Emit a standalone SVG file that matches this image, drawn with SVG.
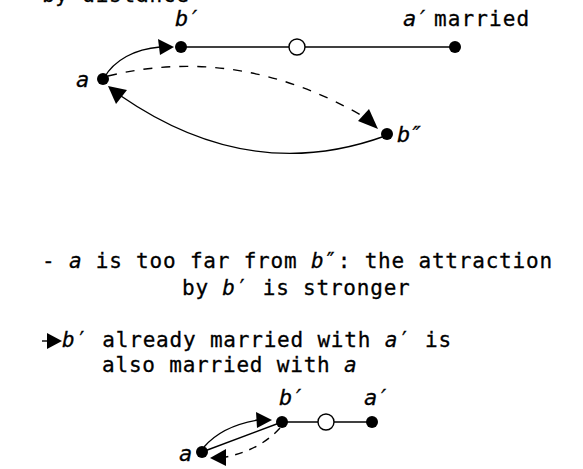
<svg xmlns="http://www.w3.org/2000/svg" width="583" height="469" viewBox="0 0 583 469">
<defs>
<style>
text{font-family:"DejaVu Sans Mono","Liberation Mono",monospace;font-size:21px;letter-spacing:0.8px;fill:#000;stroke:#000;stroke-width:0.3}
.i{font-style:italic}
.lb{font-size:22px;letter-spacing:-3px}
.dot{fill:#000}
.ring{fill:#fff;stroke:#000;stroke-width:1.4}
.ln{fill:none;stroke:#000;stroke-width:1.4}
.ds{fill:none;stroke:#000;stroke-width:1.4;stroke-dasharray:9 9}
.ah{fill:#000}
</style>
</defs>
<text x="15" y="2">- by distance</text>
<g id="connectors">
<line class="ln" x1="181" y1="47" x2="455" y2="47"/>
<path class="ln" d="M104,78 C114,60 135,49 160,47"/>
<polygon class="ah" points="174,47 158,39 160,55"/>
<path class="ds" d="M108,76 Q240,44 366,118"/>
<polygon class="ah" points="378,129 358,121 369,109"/>
<path class="ln" d="M385,136 Q250,185 121,96"/>
<polygon class="ah" points="108,86 127,90 116,104"/>
<line class="ln" x1="282" y1="422" x2="372" y2="422"/>
<line class="ln" x1="202" y1="452" x2="282" y2="422"/>
<path class="ln" d="M204,447 Q222,426 258,420"/>
<polygon class="ah" points="272,420 256,412 257,428"/>
<path class="ds" d="M280,428 Q260,450 226,457" style="stroke-dasharray:8 7"/>
<polygon class="ah" points="210,458 226,449 226,466"/>
<line class="ln" x1="42" y1="341" x2="52" y2="341"/>
<polygon class="ah" points="62,341 47,333 47,349"/>
</g>
<g id="node-bp"><circle class="dot" cx="181" cy="47" r="6"/><text class="i lb" x="175" y="26">b′</text></g>
<g id="node-mid"><circle class="ring" cx="297" cy="47" r="8"/></g>
<g id="node-ap"><circle class="dot" cx="455" cy="47" r="6"/><text class="i lb" x="403" y="26">a′</text><text x="434" y="26" style="letter-spacing:1.1px">married</text></g>
<g id="node-a"><circle class="dot" cx="103" cy="79" r="6"/><text class="i lb" x="76" y="87">a</text></g>
<g id="node-bpp"><circle class="dot" cx="387" cy="134" r="6"/><text class="i lb" x="397" y="142">b″</text></g>
<text x="42" y="268">- <tspan class="i">a</tspan> is too far from <tspan class="i">b</tspan>″: the attraction</text>
<text x="182" y="295">by <tspan class="i">b</tspan>′ is stronger</text>
<text x="62" y="347"><tspan class="i">b</tspan>′ already married with <tspan class="i">a</tspan>′ is</text>
<text x="102" y="372">also married with <tspan class="i">a</tspan></text>
<g id="node-a2"><circle class="dot" cx="202" cy="452" r="6"/><text class="i lb" x="179" y="461">a</text></g>
<g id="node-bp2"><circle class="dot" cx="282" cy="422" r="6"/><text class="i lb" x="279" y="405">b′</text></g>
<g id="node-mid2"><circle class="ring" cx="326" cy="422" r="8"/></g>
<g id="node-ap2"><circle class="dot" cx="372" cy="422" r="6"/><text class="i lb" x="364" y="405">a′</text></g>
</svg>
